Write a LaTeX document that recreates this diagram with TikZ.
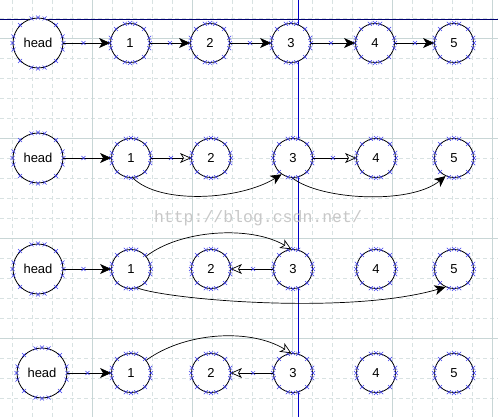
\documentclass[tikz,border=0pt]{standalone}
\usepackage{fontspec}
\setmainfont{Liberation Sans}
\newfontfamily\wmfont{Liberation Mono}
\usetikzlibrary{arrows.meta,calc}
\definecolor{gridminor}{HTML}{D8E2E2}
\definecolor{gridmajor}{HTML}{C8D6D6}
\definecolor{navyline}{HTML}{000070}
\definecolor{blueline}{HTML}{0000C8}
\definecolor{xmarkcol}{HTML}{4040F0}
\definecolor{wmcol}{HTML}{C8C8C8}
\tikzset{
  bignode/.style={circle,draw=black,fill=white,line width=0.8pt,minimum size=50pt,inner sep=0pt,font=\fontsize{13}{15}\selectfont},
  smallnode/.style={bignode,minimum size=39pt},
  fillarrow/.style={draw=black,line width=0.7pt,-{Stealth[length=11pt,width=10pt,inset=3pt]}},
  openarrow/.style={draw=black,line width=0.7pt,-{Stealth[open,length=11pt,width=10pt,inset=3pt]}},
  crossmark/.style={draw=xmarkcol,line width=0.5pt},
}
\newcommand\mycross[1]{\draw[crossmark] ($(#1)+(-2,-2)$)--($(#1)+(2,2)$) ($(#1)+(-2,2)$)--($(#1)+(2,-2)$);}
\begin{document}
\begin{tikzpicture}[x=1pt,y=-1pt]
\useasboundingbox (0,0) rectangle (498,417);
\fill[white] (0,0) rectangle (498,417);
% grid
\foreach \x in {12,32,...,492} \draw[gridminor,line width=0.6pt,dash pattern=on 4pt off 3pt] (\x,0)--(\x,417);
\foreach \y in {18,38,...,418} \draw[gridminor,line width=0.6pt,dash pattern=on 4pt off 3pt] (0,\y)--(498,\y);
\foreach \x in {92,192,292,392,492} \draw[gridmajor,line width=0.6pt] (\x,0)--(\x,417);
\foreach \y in {38,138,238,338} \draw[gridmajor,line width=0.6pt] (0,\y)--(498,\y);
% guide lines
\draw[navyline,line width=0.8pt] (0,19)--(498,19);
\draw[blueline,line width=0.8pt] (298,0)--(298,417);
% watermark
\node[text=wmcol,font=\wmfont\fontsize{16.5}{18}\selectfont,inner sep=0pt] (wm) at (258,218) {http://blog.csdn.net/};
% nodes row 1
\node[bignode] (h1) at (38,43) {head};
\node[smallnode] (n1-1) at (130,43) {1};
\node[smallnode] (n1-2) at (210,43) {2};
\node[smallnode] (n1-3) at (291,43) {3};
\node[smallnode] (n1-4) at (375,43) {4};
\node[smallnode] (n1-5) at (454,43) {5};
% row 2
\node[bignode] (h2) at (38,158) {head};
\node[smallnode] (n2-1) at (131,158) {1};
\node[smallnode] (n2-2) at (211,158) {2};
\node[smallnode] (n2-3) at (293,158) {3};
\node[smallnode] (n2-4) at (376,158) {4};
\node[smallnode] (n2-5) at (454,158) {5};
% row 3
\node[bignode] (h3) at (38,269) {head};
\node[smallnode] (n3-1) at (131,269) {1};
\node[smallnode] (n3-2) at (211,269) {2};
\node[smallnode] (n3-3) at (293,269) {3};
\node[smallnode] (n3-4) at (376,269) {4};
\node[smallnode] (n3-5) at (454,269) {5};
% row 4
\node[bignode] (h4) at (42,373) {head};
\node[smallnode] (n4-1) at (131,373) {1};
\node[smallnode] (n4-2) at (211,373) {2};
\node[smallnode] (n4-3) at (293,373) {3};
\node[smallnode] (n4-4) at (376,373) {4};
\node[smallnode] (n4-5) at (454,373) {5};
% crosses around circles
\foreach \n in {h1,n1-1,n1-2,n1-3,n1-4,n1-5,h2,n2-1,n2-2,n2-3,n2-4,n2-5,h3,n3-1,n3-2,n3-3,n3-4,n3-5,h4,n4-1,n4-2,n4-3,n4-4,n4-5}
  \foreach \a in {0,15,45,75,90,105,135,165,180,195,225,255,270,285,315,345}
    {\mycross{\n.\a}}
% row 1 connectors
\draw[fillarrow] (h1.east) -- (n1-1.west);
\draw[fillarrow] (n1-1.east) -- (n1-2.west);
\draw[fillarrow] (n1-2.east) -- (n1-3.west);
\draw[fillarrow] (n1-3.east) -- (n1-4.west);
\draw[fillarrow] (n1-4.east) -- (n1-5.west);
\mycross{$(h1.east)!20pt!(n1-1.west)$}
\mycross{$(n1-1.east)!20pt!(n1-2.west)$}
\mycross{$(n1-2.east)!20pt!(n1-3.west)$}
\mycross{$(n1-3.east)!20pt!(n1-4.west)$}
\mycross{$(n1-4.east)!20pt!(n1-5.west)$}
% row 2 connectors
\draw[fillarrow] (h2.east) -- (n2-1.west);
\draw[openarrow] (n2-1.east) -- (n2-2.west);
\draw[openarrow] (n2-3.east) -- (n2-4.west);
\draw[fillarrow] (n2-1.-85) .. controls (160,205) and (240,200) .. (n2-3.-125);
\draw[fillarrow] (n2-3.-92) .. controls (320,200) and (410,205) .. (n2-5.-115);
\mycross{$(h2.east)!20pt!(n2-1.west)$}
\mycross{$(n2-1.east)!20pt!(n2-2.west)$}
\mycross{$(n2-3.east)!20pt!(n2-4.west)$}
% row 3 connectors
\draw[fillarrow] (h3.east) -- (n3-1.west);
\draw[openarrow] (n3-3.west) -- (n3-2.east);
\draw[openarrow] (n3-1.40) .. controls (180,230) and (250,225) .. (n3-3.95);
\draw[fillarrow] (n3-1.-72) .. controls (170,300) and (350,315) .. (n3-5.-115);
\mycross{$(h3.east)!20pt!(n3-1.west)$}
\mycross{$(n3-3.west)!20pt!(n3-2.east)$}
% row 4 connectors
\draw[fillarrow] (h4.east) -- (n4-1.west);
\draw[openarrow] (n4-3.west) -- (n4-2.east);
\draw[openarrow] (n4-1.40) .. controls (185,332) and (250,328) .. (n4-3.95);
\mycross{$(h4.east)!20pt!(n4-1.west)$}
\mycross{$(n4-3.west)!20pt!(n4-2.east)$}
\end{tikzpicture}
\end{document}
